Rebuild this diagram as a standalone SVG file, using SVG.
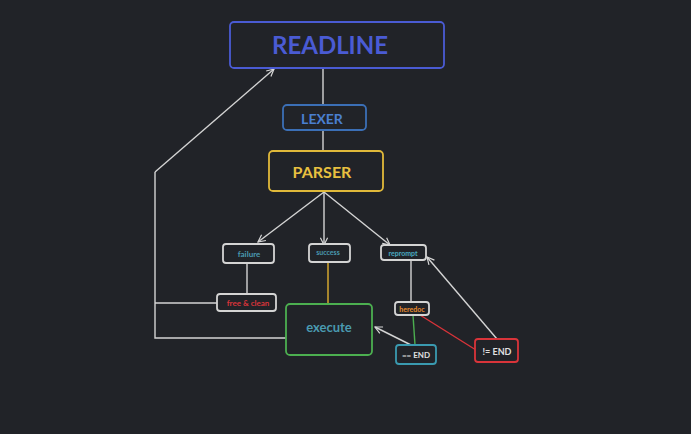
<svg xmlns="http://www.w3.org/2000/svg" width="691" height="434" viewBox="0 0 691 434">
<defs>
<marker id="ah" viewBox="0 0 10 10" refX="9" refY="5" markerWidth="9" markerHeight="9" orient="auto" markerUnits="userSpaceOnUse">
<path d="M1,1 L9,5 L1,9" fill="none" stroke="#d8d8d8" stroke-width="1.3"/>
</marker>
</defs>
<style>
.bg{fill:#212328}
.box{fill:#212328;stroke-width:1.8}
.t{font-family:Lato,"Open Sans",sans-serif;font-weight:bold;text-anchor:middle;dominant-baseline:central}
.c{fill:none;stroke:#d4d4d4;stroke-width:1.4}
.a{marker-end:url(#ah)}
</style>
<rect class="bg" x="0" y="0" width="691" height="434"/>
<g id="connectors">
<line class="c" x1="323" y1="68" x2="323" y2="104"/>
<line class="c" x1="323" y1="130" x2="323" y2="151"/>
<line class="c a" x1="324" y1="192" x2="258" y2="242"/>
<line class="c a" x1="324" y1="192" x2="324" y2="245"/>
<line class="c a" x1="324" y1="192" x2="390" y2="245"/>
<line class="c" x1="247" y1="263" x2="247" y2="294"/>
<polyline class="c" points="217,303 155,303"/>
<polyline class="c" points="286,338 155,338 155,172"/>
<line class="c a" x1="155" y1="172" x2="274" y2="69"/>
<line x1="328" y1="262" x2="328" y2="304" stroke="#e0b030" stroke-width="1.4"/>
<line class="c" x1="411" y1="261" x2="411" y2="302"/>
<line x1="413" y1="315" x2="415" y2="345" stroke="#4caf50" stroke-width="1.4"/>
<line x1="420" y1="315" x2="476" y2="350" stroke="#d9343a" stroke-width="1.4"/>
<line class="c a" x1="497" y1="339" x2="427" y2="257"/>
<line class="c a" x1="411" y1="345" x2="375" y2="327"/>
</g>
<g id="readline">
<rect class="box" x="230" y="22" width="214" height="46" rx="4" stroke="#4a5bd4"/>
<text class="t" x="330" y="44" font-size="24" fill="#4a5bd4">READLINE</text>
</g>
<g id="lexer">
<rect class="box" x="283" y="105" width="83" height="25" rx="4" stroke="#3b6fb6"/>
<text class="t" x="322" y="118" font-size="14" fill="#4a7fd0">LEXER</text>
</g>
<g id="parser">
<rect class="box" x="269" y="151" width="114" height="40" rx="4" stroke="#e0b93a"/>
<text class="t" x="322" y="171" font-size="16" fill="#e8c040">PARSER</text>
</g>
<g id="failure">
<rect class="box" x="223" y="244" width="51" height="19" rx="3" stroke="#d4d4d4"/>
<text class="t" x="249" y="254" font-size="8" fill="#4a9ab0">failure</text>
</g>
<g id="success">
<rect class="box" x="309" y="244" width="41" height="18" rx="3" stroke="#d4d4d4"/>
<text class="t" x="328" y="252" font-size="7" fill="#4a9ab0">success</text>
</g>
<g id="reprompt">
<rect class="box" x="381" y="245" width="45" height="15" rx="3" stroke="#d4d4d4"/>
<text class="t" x="403" y="253" font-size="7" fill="#4aaac0">reprompt</text>
</g>
<g id="free-clean">
<rect class="box" x="217" y="294" width="59" height="17" rx="3" stroke="#d4d4d4"/>
<text class="t" x="248" y="303" font-size="8" fill="#d9343a">free &amp; clean</text>
</g>
<g id="execute">
<rect class="box" x="286" y="304" width="86" height="51" rx="4" stroke="#4caf50"/>
<text class="t" x="329" y="327" font-size="13" fill="#4a9ab0">execute</text>
</g>
<g id="heredoc">
<rect class="box" x="395" y="302" width="34" height="13" rx="3" stroke="#d4d4d4"/>
<text class="t" x="412" y="309" font-size="7" fill="#e88b2e">heredoc</text>
</g>
<g id="eq-end">
<rect class="box" x="396" y="345" width="40" height="19" rx="3" stroke="#3a9ab0"/>
<text class="t" x="416" y="355" font-size="8" fill="#e0e0e0">== END</text>
</g>
<g id="neq-end">
<rect class="box" x="475" y="339" width="43" height="23" rx="3" stroke="#d9343a"/>
<text class="t" x="497" y="351" font-size="9" fill="#e0e0e0">!= END</text>
</g>
</svg>
